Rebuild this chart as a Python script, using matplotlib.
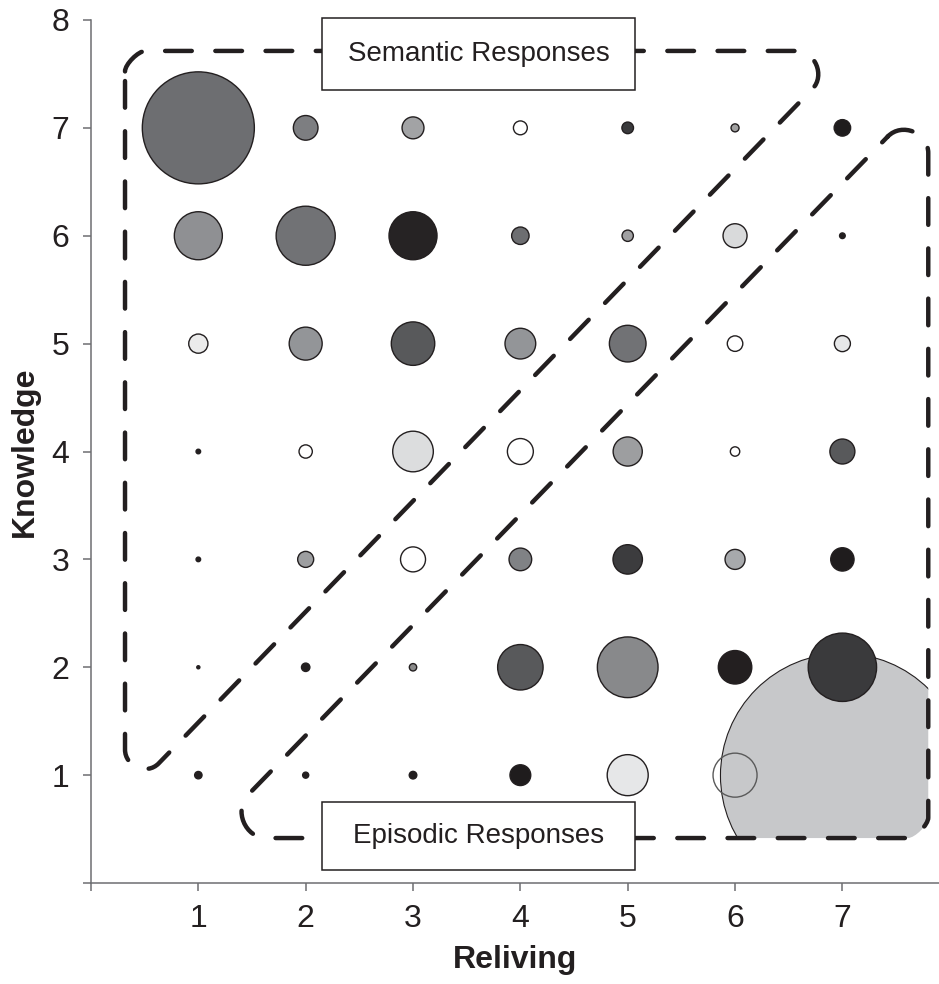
import numpy as np
import matplotlib
matplotlib.use('Agg')
import matplotlib.pyplot as plt
from matplotlib.path import Path
from matplotlib.patches import PathPatch, Rectangle

plt.rcParams['font.family'] = ['Liberation Sans', 'DejaVu Sans']

# data: rows are knowledge 7 .. 1, columns reliving 1 .. 7
reliving = [1, 2, 3, 4, 5, 6, 7]
knowledge = [7, 6, 5, 4, 3, 2, 1]
counts = [
    [784, 38, 30, 12, 8.4, 4, 17],
    [144, 218, 144, 19, 8, 36, 2],
    [23, 68, 118, 59, 84, 15, 16],
    [1.3, 11, 103, 42, 53, 5.5, 39],
    [1.3, 16, 39, 32, 54, 25, 34],
    [0.6, 4.4, 3.4, 129, 230, 70, 292],
    [3.4, 2.3, 3.6, 27, 105, 121, 3721],
]
fills = [
    ['#6d6e71', '#7d7e81', '#a2a3a5', '#ffffff', '#3a3a3c', '#a0a0a0', '#1f1c1d'],
    ['#8f9093', '#717275', '#262324', '#6d6e71', '#a0a0a2', '#d9dadb', '#231f20'],
    ['#ebebeb', '#939598', '#58595b', '#939598', '#717275', '#ffffff', '#e6e7e8'],
    ['#231f20', '#ffffff', '#dcddde', '#ffffff', '#9d9ea0', '#ffffff', '#58595b'],
    ['#231f20', '#9d9ea0', '#ffffff', '#808285', '#3c3c3e', '#a7a9ac', '#1f1c1d'],
    ['#231f20', '#231f20', '#8a8a8a', '#58595b', '#88898b', '#231f20', '#3a3a3c'],
    ['#231f20', '#231f20', '#231f20', '#1f1c1d', '#e6e7e8', 'none', '#c7c8ca'],
]
# response regions (corners in data units) and their labels
semantic_corners = [(0.317, 7.713), (7.064, 7.713), (0.317, 0.787)]
semantic_cuts = [0.19, 0.49, 0.45]
episodic_corners = [(7.80, 7.306), (7.80, 0.417), (1.072, 0.417)]
episodic_cuts = [0.54, 0.19, 0.56]
region_labels = ['Semantic Responses', 'Episodic Responses']

INK = '#231f20'
AXIS = '#6d6e71'


def rounded_path(verts, cuts, k=0.35):
    verts = np.asarray(verts, float)
    n = len(verts)
    pts, codes = [], []
    for i in range(n):
        prev, cur, nxt = verts[i - 1], verts[i], verts[(i + 1) % n]
        u1 = (prev - cur) / np.linalg.norm(prev - cur)
        u2 = (nxt - cur) / np.linalg.norm(nxt - cur)
        a = cur + cuts[i] * u1
        b = cur + cuts[i] * u2
        pts.append(a)
        codes.append(Path.MOVETO if i == 0 else Path.LINETO)
        pts += [cur + (1 - k) * cuts[i] * u1, cur + (1 - k) * cuts[i] * u2, b]
        codes += [Path.CURVE4] * 3
    pts.append(pts[0])
    codes.append(Path.LINETO)
    return Path(pts, codes)


fig = plt.figure(figsize=(9.39, 9.84), dpi=100)
ax = fig.add_axes([0.0969, 0.1026, 0.9031, 0.8771])

xx, yy = np.meshgrid(reliving, knowledge)
xs = xx.ravel()
ys = yy.ravel()
vals = np.array(counts, float).ravel()
fc = np.array(fills).ravel()
sizes = vals * 8.3

dash = (0, (6.0, 5.3))
sem = PathPatch(rounded_path(semantic_corners, semantic_cuts), fill=False,
                edgecolor=INK, lw=3.2, linestyle=dash, capstyle='round', zorder=3)
epi = PathPatch(rounded_path(episodic_corners, episodic_cuts), fill=False,
                edgecolor=INK, lw=3.2, linestyle=dash, capstyle='round', zorder=3)
ax.add_patch(sem)
ax.add_patch(epi)

big = vals.argmax()
rest = np.arange(len(vals)) != big
bb = ax.scatter(xs[big], ys[big], s=sizes[big], c=fc[big], edgecolors=INK,
                linewidths=0.8, zorder=1)
clip = PathPatch(rounded_path(episodic_corners, episodic_cuts), transform=ax.transData)
bb.set_clip_path(clip)

ec = np.where(fc == 'none', '#5a5a5a', INK)
ax.scatter(xs[rest], ys[rest], s=sizes[rest], facecolors=fc[rest],
           edgecolors=ec[rest], linewidths=1.0, zorder=2)

# label boxes
for (x0, y0, x1, y1), label in zip([(2.153, 7.35, 5.07, 8.02), (2.153, 0.12, 5.07, 0.75)],
                                    region_labels):
    ax.add_patch(Rectangle((x0, y0), x1 - x0, y1 - y0, facecolor='white',
                           edgecolor=INK, lw=1.1, zorder=4, clip_on=False))
    ax.text((x0 + x1) / 2, (y0 + y1) / 2, label, ha='center', va='center',
            fontsize=20, color=INK, zorder=5)

ax.set_xlim(0, 7.9)
ax.set_ylim(0, 8)
ax.set_xticks(range(0, 8))
ax.set_xticklabels([''] + [str(i) for i in range(1, 8)])
ax.set_yticks(range(0, 9))
ax.set_yticklabels([''] + [str(i) for i in range(1, 9)])
for s in ['top', 'right']:
    ax.spines[s].set_visible(False)
for s in ['left', 'bottom']:
    ax.spines[s].set_color(AXIS)
    ax.spines[s].set_linewidth(1.1)
ax.tick_params(colors=AXIS, labelcolor=INK, length=5.8, width=1.1, labelsize=23)
ax.tick_params(axis='x', pad=9)
ax.tick_params(axis='y', pad=10)
ax.set_xlabel('Reliving', fontsize=23, fontweight='bold', color=INK, labelpad=8)
ax.set_ylabel('Knowledge', fontsize=23, fontweight='bold', color=INK, labelpad=8)

fig.savefig('out.png', dpi=100)
